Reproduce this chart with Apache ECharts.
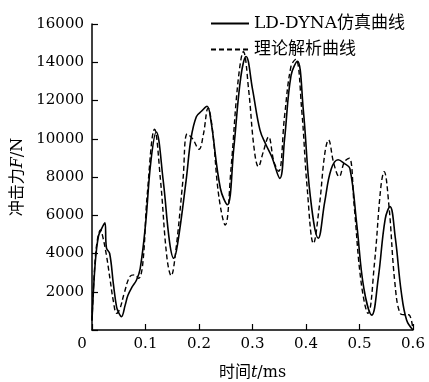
<!DOCTYPE html>
<html>
<head>
<meta charset="utf-8">
<script src="https://cdn.jsdelivr.net/npm/echarts@6/dist/echarts.min.js"></script>
<style>
  html, body { margin: 0; padding: 0; background: #fff; }
  #chart { width: 429px; height: 382px; }
</style>
</head>
<body>
<div id="chart"></div>
<script>
// LD-DYNA simulation curve (t in ms, F in N)
const simTime = [0, 0.006, 0.012, 0.018, 0.024, 0.027, 0.033, 0.040, 0.046, 0.050, 0.055, 0.062, 0.067, 0.075, 0.083, 0.090,
  0.100, 0.110, 0.120, 0.133, 0.145, 0.153, 0.160, 0.176, 0.185, 0.195, 0.205, 0.215, 0.222, 0.240, 0.253, 0.265,
  0.278, 0.288, 0.300, 0.314, 0.325, 0.336, 0.351, 0.360, 0.372, 0.384, 0.395, 0.408, 0.423, 0.435, 0.447, 0.460,
  0.472, 0.482, 0.495, 0.508, 0.523, 0.535, 0.548, 0.557, 0.567, 0.578, 0.588, 0.600];
const simForce = [500, 3500, 4900, 5300, 5600, 4300, 4000, 2400, 1200, 900, 700, 1300, 1800, 2250, 2600, 3200,
  5500, 8800, 10350, 7840, 4600, 3750, 4500, 7840, 10000, 11150, 11450, 11700, 11000, 7400, 6550, 9500,
  13200, 14300, 12600, 10450, 9700, 9060, 7930, 10000, 13300, 14050, 11500, 7000, 4800, 6700, 8400, 8900,
  8700, 8450, 5500, 2200, 780, 2700, 5800, 6450, 4800, 2000, 520, 0];

// theoretical analysis curve
const theoryTime = [0, 0.005, 0.010, 0.016, 0.020, 0.027, 0.034, 0.040, 0.046, 0.052, 0.060, 0.071, 0.080, 0.087, 0.095,
  0.103, 0.117, 0.128, 0.140, 0.148, 0.156, 0.170, 0.178, 0.188, 0.200, 0.208, 0.217, 0.225, 0.237, 0.249,
  0.260, 0.273, 0.283, 0.293, 0.303, 0.311, 0.320, 0.330, 0.340, 0.349, 0.360, 0.372, 0.381, 0.392, 0.402,
  0.414, 0.425, 0.435, 0.442, 0.452, 0.462, 0.472, 0.481, 0.490, 0.503, 0.516, 0.528, 0.540, 0.546, 0.555,
  0.566, 0.576, 0.585, 0.592, 0.600];
const theoryForce = [500, 3300, 4700, 5230, 4900, 3900, 2600, 1500, 870, 1100, 1900, 2800, 2880, 2700, 3500,
  7000, 10500, 7840, 3800, 2840, 4000, 7840, 10250, 10000, 9450, 10200, 11600, 10500, 7000, 5490,
  8500, 13000, 14550, 12500, 9500, 8540, 9300, 10100, 8800, 8300, 11200, 13800, 14150, 11500, 7500,
  4530, 6500, 9200, 9940, 8700, 8020, 8800, 8980, 6500, 2500, 870, 3500, 7500, 8280, 6500,
  2500, 870, 800, 800, 0];

const xTicks = [0, 0.1, 0.2, 0.3, 0.4, 0.5, 0.6];
const yTicks = [0, 2000, 4000, 6000, 8000, 10000, 12000, 14000, 16000];

const simData = simTime.map((t, i) => [t, simForce[i]]);
const theoryData = theoryTime.map((t, i) => [t, theoryForce[i]]);

const serif = 'DejaVu Serif, Noto Sans CJK SC, serif';

const chart = echarts.init(document.getElementById('chart'));
chart.setOption({
  animation: false,
  backgroundColor: '#fff',
  grid: { left: 92, right: 16, top: 24, bottom: 52, outerBoundsMode: 'none' },
  legend: {
    orient: 'vertical',
    left: 205,
    top: 10,
    itemWidth: 38,
    itemHeight: 12,
    itemGap: 9,
    textStyle: { fontFamily: serif, fontSize: 17, color: '#000' },
    data: ['LD-DYNA仿真曲线', '理论解析曲线']
  },
  xAxis: {
    type: 'value',
    min: xTicks[0],
    max: xTicks[xTicks.length - 1],
    interval: 0.1,
    name: '时间{i|t}/ms',
    nameLocation: 'middle',
    nameGap: 35,
    nameTextStyle: {
      fontFamily: serif, fontSize: 16, color: '#000',
      rich: { i: { fontFamily: serif, fontStyle: 'italic', fontSize: 16, color: '#000' } }
    },
    axisLine: { lineStyle: { color: '#000', width: 1.5 } },
    axisTick: { inside: true, length: 6, lineStyle: { color: '#000', width: 1.2 } },
    splitLine: { show: false },
    axisLabel: {
      fontFamily: serif, fontSize: 15, color: '#000', margin: 7,
      formatter: v => v === 0 ? '{o|0}' : v.toFixed(1),
      rich: { o: { fontFamily: serif, fontSize: 15, color: '#000', padding: [0, 20, 0, 0] } }
    }
  },
  yAxis: {
    type: 'value',
    min: yTicks[0],
    max: yTicks[yTicks.length - 1],
    interval: 2000,
    name: '冲击力{i|F}/N',
    nameLocation: 'middle',
    nameGap: 64,
    nameTextStyle: {
      fontFamily: serif, fontSize: 16, color: '#000',
      rich: { i: { fontFamily: serif, fontStyle: 'italic', fontSize: 16, color: '#000' } }
    },
    axisLine: { show: true, lineStyle: { color: '#000', width: 1.5 } },
    axisTick: { show: true, inside: true, length: 6, lineStyle: { color: '#000', width: 1.2 } },
    splitLine: { show: false },
    axisLabel: {
      fontFamily: serif, fontSize: 15, color: '#000', margin: 8,
      formatter: v => v === 0 ? '' : String(v)
    }
  },
  series: [
    {
      name: 'LD-DYNA仿真曲线',
      type: 'line',
      smooth: 0.4,
      symbol: 'none',
      data: simData,
      lineStyle: { color: '#000', width: 1.6, type: 'solid' },
      itemStyle: { color: 'transparent', borderColor: 'transparent' }
    },
    {
      name: '理论解析曲线',
      type: 'line',
      smooth: 0.4,
      symbol: 'none',
      data: theoryData,
      lineStyle: { color: '#000', width: 1.4, type: [5, 3] },
      itemStyle: { color: 'transparent', borderColor: 'transparent' }
    }
  ]
});
</script>
</body>
</html>
